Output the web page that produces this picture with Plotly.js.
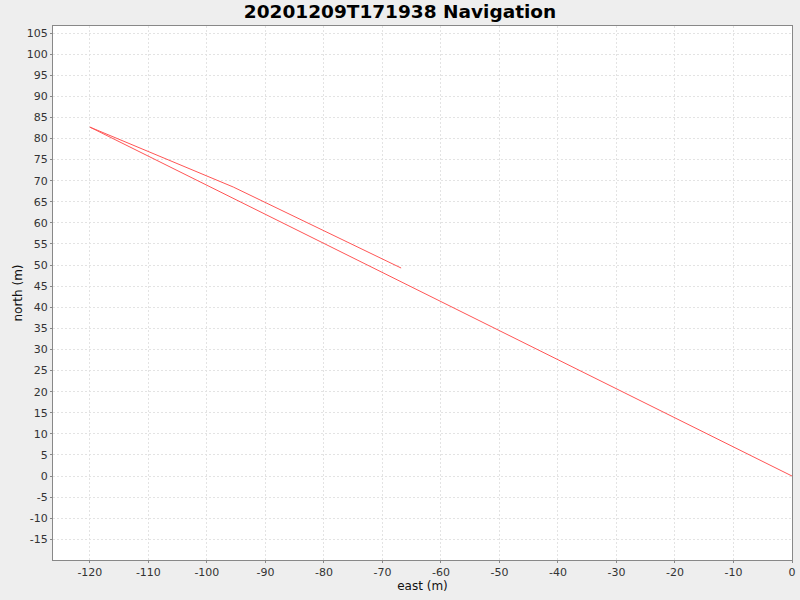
<!DOCTYPE html>
<html>
<head>
<meta charset="utf-8">
<script src="https://cdn.plot.ly/plotly-3.0.1.min.js"></script>
<style>
  body { margin: 0; background: #eeeeee; }
  #plot { width: 800px; height: 600px; }
</style>
</head>
<body>
<div id="plot"></div>
<script>
// track vertices (metres)
var east = [0, -120, -95.5, -66.8];
var north = [0, 82.7, 68.5, 49.3];

// tick labels (plain hyphen minus, as in the original)
var eastTicks = [-120, -110, -100, -90, -80, -70, -60, -50, -40, -30, -20, -10, 0];
var eastLabels = ["-120", "-110", "-100", "-90", "-80", "-70", "-60", "-50", "-40", "-30", "-20", "-10", "0"];
var northTicks = [-15, -10, -5, 0, 5, 10, 15, 20, 25, 30, 35, 40, 45, 50, 55, 60, 65, 70, 75, 80, 85, 90, 95, 100, 105];
var northLabels = ["-15", "-10", "-5", "0", "5", "10", "15", "20", "25", "30", "35", "40", "45", "50", "55", "60", "65", "70", "75", "80", "85", "90", "95", "100", "105"];

var trackTrace = {
  x: east,
  y: north,
  type: "scatter",
  mode: "lines",
  name: "track",
  line: { color: "#ff5555", width: 1 },
  hoverinfo: "skip"
};

var tickFont = { family: "DejaVu Sans", size: 11, color: "#333333" };
var labelFont = { family: "DejaVu Sans", size: 12, color: "#111111" };

var layout = {
  width: 800,
  height: 600,
  paper_bgcolor: "#eeeeee",
  plot_bgcolor: "#ffffff",
  showlegend: false,
  margin: { l: 53, r: 8, t: 26, b: 40 },
  font: { family: "DejaVu Sans", size: 11, color: "#333333" },
  title: {
    text: "<b>20201209T171938 Navigation</b>",
    font: { family: "DejaVu Sans", size: 18.5, color: "#000000" },
    x: 0.5,
    xanchor: "center",
    xref: "container",
    y: 1 - 12 / 600,
    yanchor: "middle",
    yref: "container"
  },
  xaxis: {
    range: [-126.3, 0],
    tickmode: "array",
    tickvals: eastTicks,
    ticktext: eastLabels,
    showgrid: true,
    gridcolor: "#e3e3e3",
    griddash: "2px,2px",
    gridwidth: 1,
    zeroline: false,
    showline: true,
    linecolor: "#888888",
    mirror: true,
    ticks: "outside",
    ticklen: 2,
    tickcolor: "#888888",
    tickfont: tickFont,
    title: { text: "east (m)", font: labelFont, standoff: 3 }
  },
  yaxis: {
    range: [-19.9, 106.66],
    tickmode: "array",
    tickvals: northTicks,
    ticktext: northLabels,
    showgrid: true,
    gridcolor: "#e3e3e3",
    griddash: "2px,2px",
    gridwidth: 1,
    zeroline: false,
    showline: true,
    linecolor: "#888888",
    mirror: true,
    ticks: "outside",
    ticklen: 2,
    tickcolor: "#888888",
    tickfont: tickFont,
    title: { text: "north (m)", font: labelFont, standoff: 1 }
  }
};

Plotly.newPlot("plot", [trackTrace], layout, { displayModeBar: false, staticPlot: true });
</script>
</body>
</html>
